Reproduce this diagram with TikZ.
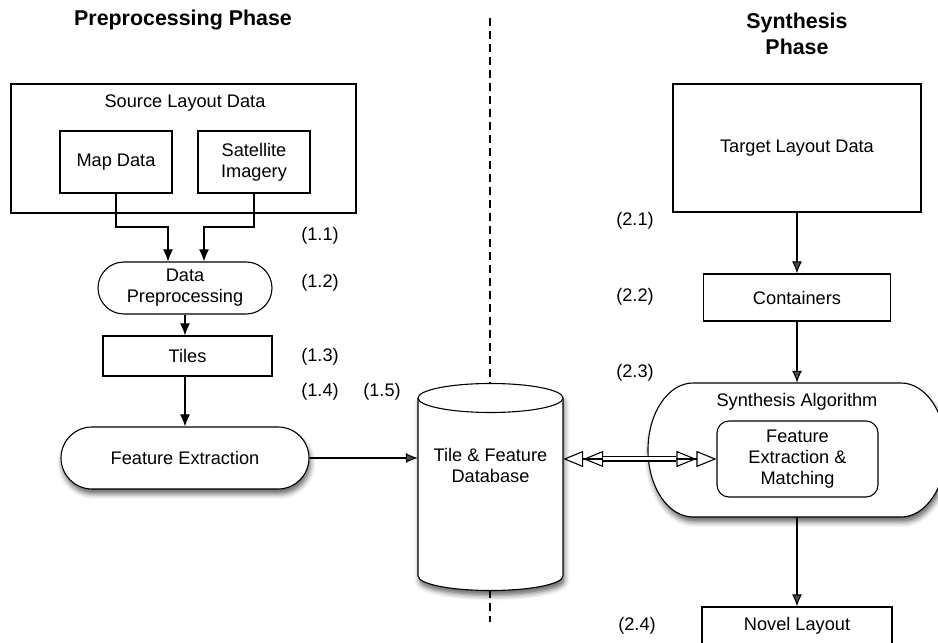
\documentclass[tikz,border=0pt]{standalone}
\usepackage{fontspec}
\setmainfont{Liberation Sans}
\usetikzlibrary{arrows.meta,shapes.misc,shadows.blur}
\begin{document}
\begin{tikzpicture}[x=1pt,y=1pt,
  every node/.style={font=\fontsize{18.2pt}{21pt}\selectfont, inner sep=0pt, align=center},
  box/.style={draw, line width=1.1pt, fill=white},
  stadium/.style={draw, line width=1.1pt, fill=white, rounded rectangle},
  lab/.style={font=\fontsize{18.2pt}{21pt}\selectfont},
  ttl/.style={font=\fontsize{21.4pt}{26pt}\selectfont\bfseries},
  arr/.style={line width=1.1pt, -{Latex[length=12pt,width=10pt]}},
  dblarr/.style={line width=1.1pt, {Triangle[open,length=20pt,width=16pt]Triangle[open,length=20pt,width=16pt]}-{Triangle[open,length=20pt,width=16pt]Triangle[open,length=20pt,width=16pt]}},
  shd/.style={blur shadow={shadow xshift=1.5pt, shadow yshift=-5pt, shadow blur radius=5pt, shadow opacity=60}}
]
\useasboundingbox (0,0) rectangle (938,643);

% titles
\node[ttl] (t1) at (183,623) {Preprocessing Phase};
\node[ttl] (t2) at (797,609) {Synthesis\\Phase};

% dashed divider
\coordinate (dtop) at (490,625);
\coordinate (dbot) at (490,21);
\draw[line width=1.2pt, dash pattern=on 8pt off 5pt] (dtop) -- (dbot);

% ---------- preprocessing ----------
\node[box, minimum width=345pt, minimum height=129pt] (src) at (183.5,494.5) {};
\node (srct) at (185,540) {Source Layout Data};
\node[box, minimum width=112pt, minimum height=62pt] (map) at (116,481) {Map Data};
\node[box, minimum width=112pt, minimum height=62pt] (sat) at (254,481) {Satellite\\Imagery};

\node[stadium, minimum width=174pt, minimum height=52pt] (dp) at (185,355) {Data\\Preprocessing};
\node[box, minimum width=169pt, minimum height=40pt] (tiles) at (187.5,287) {Tiles};
\node[stadium, shd, minimum width=248pt, minimum height=62pt] (fe) at (185,185) {Feature Extraction};

\coordinate (m1) at (168,416);
\coordinate (s1) at (204,416);
\draw[arr] (map.south) |- (m1) -- (m1 |- dp.north);
\draw[arr] (sat.south) |- (s1) -- (s1 |- dp.north);
\draw[arr] (dp.south) -- (dp.south |- tiles.north);
\draw[arr] (dp.south |- tiles.south) -- (dp.south |- fe.north);

\node[lab] (l11) at (320,407) {(1.1)};
\node[lab] (l12) at (320,360) {(1.2)};
\node[lab] (l13) at (320,286) {(1.3)};
\node[lab] (l14) at (320,251) {(1.4)};
\node[lab] (l15) at (382,251) {(1.5)};

% ---------- database cylinder ----------
\fill[white, shd] (418,245) -- (418,67) arc[start angle=180,end angle=360,x radius=72.5pt,y radius=14.5pt] -- (563,245) arc[start angle=0,end angle=180,x radius=72.5pt,y radius=14.5pt] -- cycle;
\draw[line width=1.1pt, fill=white] (418,245) -- (418,67) arc[start angle=180,end angle=360,x radius=72.5pt,y radius=14.5pt] -- (563,245);
\draw[line width=1.1pt, fill=white] (490.5,245) ellipse[x radius=72.5pt, y radius=14.5pt];
\node[minimum width=145pt] (db) at (490.5,178) {Tile \& Feature\\Database};

\draw[arr] (fe.east) -- (fe.east -| db.west);

% ---------- synthesis ----------
\node[box, minimum width=248pt, minimum height=128pt] (tgt) at (797,495) {Target Layout Data};
\node[box, minimum width=187pt, minimum height=47pt] (cont) at (797,345.5) {Containers};
\node[minimum width=298pt, minimum height=134pt] (synth) at (797,193) {};
\draw[line width=1.1pt, fill=white, shd] (693,260) -- (901,260) arc[start angle=90,end angle=-90,x radius=45pt,y radius=67pt] -- (693,126) arc[start angle=270,end angle=90,x radius=45pt,y radius=67pt] -- cycle;
\node (synt) at (797,241) {Synthesis Algorithm};
\node[draw, line width=1.1pt, fill=white, rounded corners=12pt, minimum width=161pt, minimum height=76pt] (inner) at (797.5,184) {Feature\\Extraction \&\\Matching};
\node[box, minimum width=190pt, minimum height=38pt] (novel) at (797,17) {Novel Layout};

\draw[arr] (tgt.south) -- (cont.north);
\draw[arr] (cont.south) -- (cont.south |- synth.north);
\draw[arr] (cont.south |- synth.south) -- (cont.south |- novel.north);

% double arrow
\draw[dblarr] (db.east |- inner.west) -- (inner.west);
\draw[line width=1.1pt, double, double distance=3pt, shorten <=40pt, shorten >=40pt] (db.east |- inner.west) -- (inner.west);

\node[lab] (l21) at (635,422) {(2.1)};
\node[lab] (l22) at (635,346) {(2.2)};
\node[lab] (l23) at (635,270) {(2.3)};
\node[lab] (l24) at (637,17) {(2.4)};
\end{tikzpicture}
\end{document}
